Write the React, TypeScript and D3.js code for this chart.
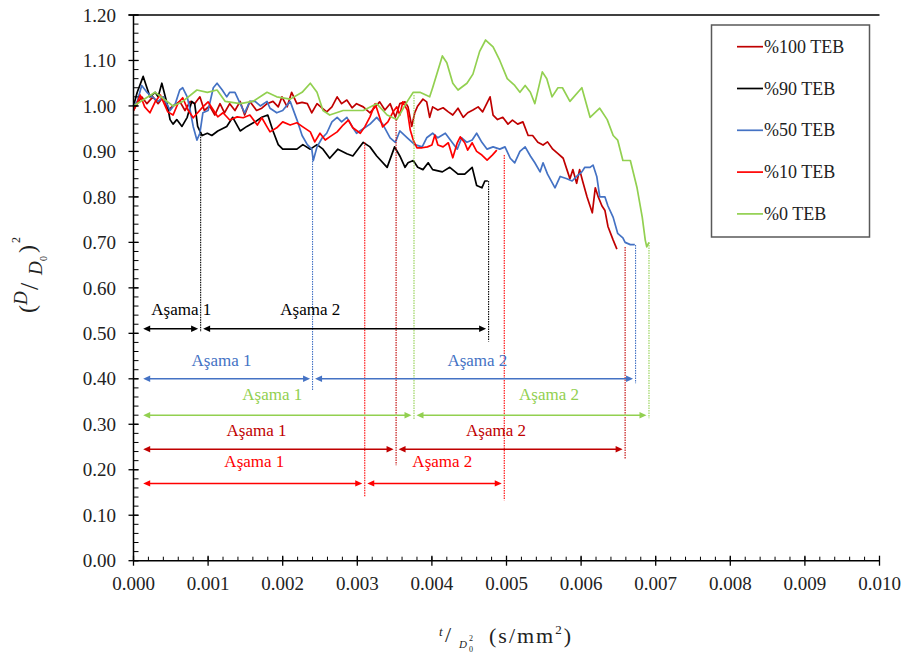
import React from 'react';
import * as d3 from 'd3';

const W = 906;
const H = 659;

// x values are in units of 1e-3 s/mm^2
const xTickValues = [0, 1, 2, 3, 4, 5, 6, 7, 8, 9, 10];
const xTickLabels = ['0.000', '0.001', '0.002', '0.003', '0.004', '0.005', '0.006', '0.007', '0.008', '0.009', '0.010'];
const yTickValues = [0, 0.1, 0.2, 0.3, 0.4, 0.5, 0.6, 0.7, 0.8, 0.9, 1.0, 1.1, 1.2];
const yTickLabels = ['0.00', '0.10', '0.20', '0.30', '0.40', '0.50', '0.60', '0.70', '0.80', '0.90', '1.00', '1.10', '1.20'];

const seriesNames = ['%100 TEB', '%90 TEB', '%50 TEB', '%10 TEB', '%0 TEB'];
const seriesColors = ['#C00000', '#000000', '#4472C4', '#FF0000', '#92D050'];

const teb100: [number, number][] = [
  [0, 0.99], [0.05, 1.005], [0.11, 1.02], [0.18, 1.005], [0.26, 1.02], [0.33, 1.005], [0.4, 1.02], [0.46, 0.99],
  [0.53, 1.0], [0.62, 1.01], [0.69, 0.99], [0.76, 1.01], [0.82, 1.005], [0.89, 1.02], [0.95, 0.99], [1.02, 1.0],
  [1.09, 0.98], [1.16, 1.005], [1.22, 0.985], [1.29, 1.005], [1.36, 0.99], [1.43, 1.01], [1.49, 0.98], [1.56, 1.01],
  [1.65, 0.99], [1.72, 0.995], [1.79, 1.005], [1.87, 1.01], [1.94, 0.998], [1.99, 1.02], [2.06, 0.998], [2.12, 1.03],
  [2.19, 1.005], [2.26, 1.008], [2.33, 1.005], [2.39, 0.985], [2.46, 1.005], [2.53, 0.995], [2.59, 0.987], [2.66, 0.998],
  [2.73, 1.02], [2.79, 1.005], [2.86, 1.013], [2.93, 0.996], [2.99, 1.005], [3.08, 0.998], [3.17, 0.985], [3.24, 0.998],
  [3.3, 1.009], [3.37, 0.991], [3.44, 1.005], [3.51, 0.975], [3.57, 1.005], [3.64, 1.009], [3.68, 0.998], [3.73, 0.955],
  [3.77, 0.985], [3.81, 1.0], [3.88, 1.015], [3.93, 1.009], [3.97, 0.975], [4.01, 0.998], [4.08, 0.991], [4.15, 0.996],
  [4.22, 0.987], [4.28, 0.98], [4.35, 0.995], [4.42, 0.975], [4.48, 0.985], [4.55, 0.991], [4.62, 0.998], [4.68, 0.987],
  [4.78, 1.02], [4.82, 0.98], [4.88, 0.97], [4.95, 0.975], [5.02, 0.96], [5.08, 0.969], [5.15, 0.96], [5.22, 0.965],
  [5.29, 0.935], [5.35, 0.935], [5.42, 0.92], [5.49, 0.914], [5.55, 0.921], [5.62, 0.905], [5.69, 0.895], [5.76, 0.885],
  [5.81, 0.86], [5.85, 0.84], [5.89, 0.86], [5.94, 0.83], [5.98, 0.86], [6.02, 0.835], [6.08, 0.8], [6.15, 0.765],
  [6.19, 0.82], [6.23, 0.8], [6.28, 0.78], [6.32, 0.77], [6.36, 0.735], [6.43, 0.705], [6.48, 0.685],
];

const teb90: [number, number][] = [
  [0, 1.0], [0.05, 1.03], [0.13, 1.065], [0.18, 1.04], [0.22, 1.02], [0.29, 1.03], [0.33, 1.02], [0.38, 1.05],
  [0.45, 1.005], [0.49, 0.97], [0.53, 0.96], [0.58, 0.97], [0.65, 0.955], [0.72, 0.975], [0.78, 1.01], [0.82, 1.005],
  [0.86, 0.955], [0.92, 0.935], [0.99, 0.94], [1.05, 0.935], [1.13, 0.945], [1.25, 0.955], [1.33, 0.975], [1.43, 0.945],
  [1.52, 0.955], [1.63, 0.965], [1.72, 0.975], [1.8, 0.98], [1.87, 0.945], [1.94, 0.915], [2.0, 0.905], [2.1, 0.905],
  [2.19, 0.905], [2.27, 0.915], [2.37, 0.905], [2.46, 0.915], [2.54, 0.905], [2.63, 0.885], [2.74, 0.905], [2.86, 0.895],
  [2.94, 0.89], [3.08, 0.92], [3.17, 0.91], [3.26, 0.89], [3.4, 0.865], [3.5, 0.91], [3.57, 0.89], [3.64, 0.865],
  [3.68, 0.875], [3.75, 0.88], [3.81, 0.865], [3.88, 0.86], [3.95, 0.875], [4.01, 0.86], [4.14, 0.855], [4.24, 0.865],
  [4.35, 0.85], [4.44, 0.85], [4.54, 0.865], [4.6, 0.825], [4.67, 0.82], [4.71, 0.835], [4.75, 0.835],
];

const teb50: [number, number][] = [
  [0, 1.0], [0.05, 1.01], [0.11, 1.045], [0.18, 1.03], [0.25, 1.02], [0.33, 1.01], [0.4, 1.02], [0.49, 0.99],
  [0.56, 1.005], [0.62, 1.035], [0.66, 1.04], [0.72, 1.02], [0.76, 0.99], [0.8, 0.955], [0.85, 0.925], [0.89, 0.94],
  [0.93, 0.985], [1.0, 0.99], [1.07, 1.04], [1.12, 1.05], [1.19, 1.035], [1.25, 1.02], [1.29, 1.03], [1.36, 1.03],
  [1.43, 1.005], [1.49, 0.985], [1.56, 1.01], [1.63, 1.01], [1.7, 1.0], [1.79, 1.01], [1.83, 0.995], [1.92, 0.985],
  [2.0, 0.99], [2.1, 1.01], [2.19, 0.97], [2.26, 0.935], [2.33, 0.915], [2.39, 0.905], [2.41, 0.88], [2.46, 0.91],
  [2.53, 0.93], [2.59, 0.94], [2.66, 0.965], [2.73, 0.975], [2.79, 0.965], [2.86, 0.975], [2.93, 0.955], [2.99, 0.94],
  [3.08, 0.95], [3.17, 0.96], [3.26, 0.975], [3.34, 0.96], [3.44, 0.93], [3.51, 0.92], [3.57, 0.945], [3.67, 0.93],
  [3.77, 0.915], [3.87, 0.91], [3.93, 0.93], [4.01, 0.94], [4.08, 0.93], [4.18, 0.94], [4.27, 0.92], [4.34, 0.905],
  [4.4, 0.93], [4.47, 0.92], [4.54, 0.925], [4.6, 0.94], [4.67, 0.92], [4.74, 0.905], [4.82, 0.91], [4.91, 0.905],
  [4.98, 0.91], [5.05, 0.885], [5.11, 0.875], [5.18, 0.9], [5.25, 0.91], [5.32, 0.89], [5.38, 0.875], [5.45, 0.855],
  [5.49, 0.875], [5.55, 0.85], [5.65, 0.82], [5.72, 0.845], [5.81, 0.84], [5.88, 0.835], [5.94, 0.845], [6.01, 0.855],
  [6.05, 0.865], [6.12, 0.865], [6.16, 0.87], [6.21, 0.845], [6.25, 0.8], [6.32, 0.8], [6.36, 0.78], [6.43, 0.755],
  [6.49, 0.72], [6.56, 0.71], [6.59, 0.7], [6.66, 0.695], [6.72, 0.695],
];

const teb10: [number, number][] = [
  [0, 0.99], [0.05, 1.007], [0.09, 1.024], [0.15, 0.998], [0.22, 0.985], [0.29, 1.009], [0.36, 1.024], [0.4, 1.009],
  [0.46, 0.987], [0.53, 0.98], [0.6, 1.007], [0.66, 1.018], [0.73, 0.991], [0.8, 0.974], [0.86, 0.985], [0.93, 0.998],
  [1.0, 1.009], [1.07, 0.991], [1.13, 0.976], [1.2, 0.985], [1.29, 0.969], [1.39, 0.976], [1.47, 0.974], [1.56, 0.98],
  [1.66, 0.958], [1.72, 0.974], [1.79, 0.954], [1.83, 0.943], [1.92, 0.952], [2.0, 0.965], [2.1, 0.958], [2.19, 0.963],
  [2.27, 0.954], [2.37, 0.943], [2.43, 0.921], [2.5, 0.94], [2.57, 0.925], [2.63, 0.932], [2.73, 0.943], [2.81, 0.958],
  [2.88, 0.969], [2.94, 0.952], [3.04, 0.94], [3.1, 0.954], [3.17, 0.976], [3.24, 1.005], [3.28, 0.985], [3.34, 0.954],
  [3.41, 0.965], [3.48, 0.987], [3.53, 0.998], [3.57, 0.98], [3.61, 1.009], [3.67, 0.991], [3.71, 0.947], [3.75, 0.925],
  [3.8, 0.908], [3.87, 0.908], [3.94, 0.91], [4.0, 0.914], [4.04, 0.936], [4.08, 0.914], [4.15, 0.91], [4.22, 0.919],
  [4.28, 0.886], [4.34, 0.919], [4.38, 0.932], [4.44, 0.919], [4.48, 0.903], [4.54, 0.919], [4.6, 0.9], [4.67, 0.892],
  [4.74, 0.881], [4.81, 0.892], [4.87, 0.903],
];

const teb0: [number, number][] = [
  [0, 1.0], [0.29, 1.03], [0.53, 1.0], [0.66, 1.01], [0.85, 1.035], [0.99, 1.03], [1.12, 1.035], [1.23, 1.01],
  [1.43, 1.005], [1.6, 1.01], [1.79, 1.03], [1.92, 1.02], [2.1, 1.015], [2.26, 1.03], [2.37, 1.05], [2.46, 1.03],
  [2.54, 0.99], [2.63, 0.98], [2.81, 0.99], [3.08, 0.99], [3.26, 1.005], [3.4, 0.98], [3.53, 0.97], [3.67, 1.01],
  [3.75, 1.03], [3.84, 1.03], [3.97, 1.02], [4.01, 1.04], [4.14, 1.11], [4.2, 1.095], [4.28, 1.05], [4.35, 1.035],
  [4.47, 1.05], [4.55, 1.07], [4.64, 1.12], [4.72, 1.145], [4.82, 1.13], [4.91, 1.1], [5.01, 1.06], [5.11, 1.045],
  [5.18, 1.03], [5.25, 1.045], [5.32, 1.03], [5.38, 1.005], [5.48, 1.075], [5.54, 1.06], [5.61, 1.02], [5.69, 1.04],
  [5.75, 1.04], [5.85, 1.01], [6.01, 1.04], [6.12, 0.975], [6.25, 0.995], [6.35, 0.97], [6.43, 0.935], [6.49, 0.925],
  [6.56, 0.88], [6.66, 0.88], [6.75, 0.82], [6.82, 0.755], [6.86, 0.705], [6.88, 0.69], [6.91, 0.7],
];

const seriesData = [teb100, teb90, teb50, teb10, teb0];

// Stage (Aşama) annotations, per series in the same order
const stageArrowStart = 0.13;
const stageArrowY = [0.245, 0.51, 0.4, 0.17, 0.32];
const stageBoundaries = [[3.52, 6.59], [0.9, 4.76], [2.4, 6.73], [3.1, 4.97], [3.76, 6.91]];
const boundaryTop = [[0.97, 0.69], [0.943, 0.835], [0.89, 0.694], [0.92, 0.892], [1.024, 0.7]];
const boundaryBottom = [[0.21, 0.225], [0.503, 0.482], [0.375, 0.39], [0.14, 0.133], [0.31, 0.313]];
const stageLabels = ['Aşama 1', 'Aşama 2'];
const stageLabelX = [[1.65, 4.86], [0.64, 2.37], [1.18, 4.61], [1.62, 4.14], [1.86, 5.57]];
const stageLabelY = [0.275, 0.54, 0.429, 0.205, 0.354];

const xMinorTicks = d3.range(0, 10.001, 0.2);
const yMinorTicks = d3.range(0, 1.2001, 0.02);

export default function App() {
  const left = 133.5, right = 879.5, top = 15, bottom = 560.7;
  const x = d3.scaleLinear().domain([0, 10]).range([left, right]);
  const y = d3.scaleLinear().domain([0, 1.2]).range([bottom, top]);
  const line = d3.line<[number, number]>().x(d => x(d[0])).y(d => y(d[1]));
  const serif = '"Liberation Serif", "Times New Roman", serif';
  const gap = 2.5;

  const arrowHead = (tx: number, ty: number, dir: number) =>
    `M${tx},${ty}L${tx - dir * 7},${ty - 3.2}L${tx - dir * 7},${ty + 3.2}Z`;

  return (
    <svg width={W} height={H} style={{ position: 'absolute', left: 0, top: 0, background: '#fff' }} fontFamily={serif}>
      <rect x={0} y={0} width={W} height={H} fill="#fff" />
      {/* top border */}
      <line x1={left - 5} x2={right} y1={top} y2={top} stroke="#000" strokeWidth={1.5} />

      {/* series */}
      {seriesData.map((d, i) => (
        <path key={i} d={line(d) || ''} fill="none" stroke={seriesColors[i]} strokeWidth={1.7} strokeLinejoin="round" />
      ))}

      {/* boundary dotted lines */}
      {stageBoundaries.map((bs, i) => bs.map((b, j) => (
        <line key={`b${i}-${j}`} x1={x(b)} x2={x(b)} y1={y(boundaryTop[i][j])} y2={y(boundaryBottom[i][j])}
          stroke={seriesColors[i]} strokeWidth={1.1} strokeDasharray="1.5,1" />
      )))}

      {/* arrows */}
      {stageBoundaries.map((bs, i) => {
        const yy = y(stageArrowY[i]);
        const segs = [
          [x(stageArrowStart), x(bs[0]) - gap],
          [x(bs[0]) + gap, x(bs[1]) - gap],
        ];
        return segs.map((s, j) => (
          <g key={`a${i}-${j}`} fill={seriesColors[i]} stroke="none">
            <line x1={s[0] + 5} x2={s[1] - 5} y1={yy} y2={yy} stroke={seriesColors[i]} strokeWidth={1.5} />
            <path d={arrowHead(s[0], yy, -1)} />
            <path d={arrowHead(s[1], yy, 1)} />
          </g>
        ));
      })}

      {/* stage labels */}
      {stageLabelX.map((lx, i) => lx.map((v, j) => (
        <text key={`t${i}-${j}`} x={x(v)} y={y(stageLabelY[i])} fill={seriesColors[i]} fontSize={17}
          textAnchor="middle">{stageLabels[j]}</text>
      )))}

      {/* axes */}
      <line x1={left} x2={left} y1={top} y2={bottom} stroke="#000" strokeWidth={1.5} />
      <line x1={left} x2={right} y1={bottom} y2={bottom} stroke="#000" strokeWidth={1.5} />
      {yMinorTicks.map((v, i) => (
        <line key={`ym${i}`} x1={left} x2={left + 5} y1={y(v)} y2={y(v)} stroke="#000" strokeWidth={1} />
      ))}
      {yTickValues.map((v, i) => (
        <g key={`y${i}`}>
          <line x1={left - 5} x2={left + 5} y1={y(v)} y2={y(v)} stroke="#000" strokeWidth={1.3} />
          <text x={116} y={y(v)} dy="0.35em" textAnchor="end" fontSize={19} fill="#222">{yTickLabels[i]}</text>
        </g>
      ))}
      {xMinorTicks.map((v, i) => (
        <line key={`xm${i}`} x1={x(v)} x2={x(v)} y1={bottom} y2={bottom - 4} stroke="#000" strokeWidth={1} />
      ))}
      {xTickValues.map((v, i) => (
        <g key={`x${i}`}>
          <line x1={x(v)} x2={x(v)} y1={bottom - 5} y2={bottom + 5} stroke="#000" strokeWidth={1.3} />
          <text x={x(v)} y={590} textAnchor="middle" fontSize={19} fill="#222">{xTickLabels[i]}</text>
        </g>
      ))}

      {/* y axis title (D/D0)^2 */}
      <g transform="translate(35,313) rotate(-90)" fill="#222">
        <text x={0} y={0} fontSize={24}>(</text>
        <text x={8} y={-8} fontSize={19} fontStyle="italic">D</text>
        <text x={23} y={3} fontSize={26}>/</text>
        <text x={38} y={7} fontSize={19} fontStyle="italic">D</text>
        <text x={52} y={12} fontSize={10}>0</text>
        <text x={60} y={0} fontSize={24}>)</text>
        <text x={70} y={-15} fontSize={12}>2</text>
      </g>

      {/* x axis title t/D0^2 (s/mm2) */}
      <g fill="#222">
        <text x={439} y={636} fontSize={13} fontStyle="italic">t</text>
        <text x={445} y={642} fontSize={22}>/</text>
        <text x={459} y={648} fontSize={11} fontStyle="italic">D</text>
        <text x={469} y={652} fontSize={8}>0</text>
        <text x={469} y={641} fontSize={8}>2</text>
        <text x={489} y={643} fontSize={22} letterSpacing={2}>
          (s/mm<tspan fontSize={13} dy={-9}>2</tspan><tspan dy={9}>)</tspan>
        </text>
      </g>

      {/* legend */}
      <rect x={711.5} y={25} width={158} height={212} fill="#fff" stroke="#595959" strokeWidth={1.5} />
      {seriesNames.map((n, i) => {
        const ly = 46.7 + i * 41.8;
        return (
          <g key={`l${i}`}>
            <line x1={737} x2={763} y1={ly} y2={ly} stroke={seriesColors[i]} strokeWidth={1.7} />
            <text x={764} y={ly + 6} fontSize={18} fill="#222">{n}</text>
          </g>
        );
      })}
    </svg>
  );
}
